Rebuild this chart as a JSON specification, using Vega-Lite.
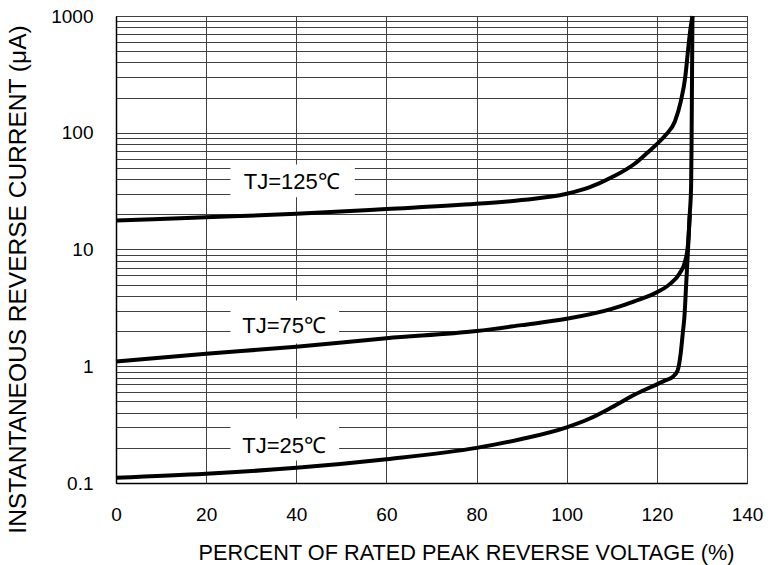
{
  "$schema": "https://vega.github.io/schema/vega-lite/v6.json",
  "width": 631,
  "height": 467,
  "autosize": {"type": "none"},
  "padding": {"left": 116, "top": 16, "right": 36, "bottom": 82},
  "background": "white",
  "config": {
    "font": "Liberation Sans",
    "view": {"stroke": "#000000", "strokeWidth": 1}
  },
  "datasets": {
    "curves": [
      {"series": "125", "x": 0, "y": 17.7},
      {"series": "125", "x": 20, "y": 18.9},
      {"series": "125", "x": 40, "y": 20.2},
      {"series": "125", "x": 60, "y": 22.2},
      {"series": "125", "x": 80, "y": 24.6},
      {"series": "125", "x": 90, "y": 26.5},
      {"series": "125", "x": 100, "y": 30},
      {"series": "125", "x": 105, "y": 34},
      {"series": "125", "x": 110, "y": 41.5},
      {"series": "125", "x": 115, "y": 54},
      {"series": "125", "x": 118, "y": 68},
      {"series": "125", "x": 120, "y": 80},
      {"series": "125", "x": 122, "y": 96},
      {"series": "125", "x": 124, "y": 125},
      {"series": "125", "x": 125.3, "y": 185},
      {"series": "125", "x": 126.3, "y": 300},
      {"series": "125", "x": 126.9, "y": 500},
      {"series": "125", "x": 127.4, "y": 750},
      {"series": "125", "x": 127.9, "y": 1000},
      {"series": "75", "x": 0, "y": 1.1},
      {"series": "75", "x": 20, "y": 1.28},
      {"series": "75", "x": 40, "y": 1.47},
      {"series": "75", "x": 60, "y": 1.74},
      {"series": "75", "x": 80, "y": 2.0},
      {"series": "75", "x": 90, "y": 2.25},
      {"series": "75", "x": 100, "y": 2.55},
      {"series": "75", "x": 110, "y": 3.1},
      {"series": "75", "x": 115, "y": 3.6},
      {"series": "75", "x": 120, "y": 4.3},
      {"series": "75", "x": 123, "y": 5.1},
      {"series": "75", "x": 125, "y": 6.2},
      {"series": "75", "x": 126.3, "y": 8},
      {"series": "75", "x": 126.9, "y": 11},
      {"series": "75", "x": 127.3, "y": 20},
      {"series": "25", "x": 0, "y": 0.111},
      {"series": "25", "x": 20, "y": 0.12},
      {"series": "25", "x": 40, "y": 0.135},
      {"series": "25", "x": 60, "y": 0.16},
      {"series": "25", "x": 80, "y": 0.2},
      {"series": "25", "x": 90, "y": 0.238},
      {"series": "25", "x": 100, "y": 0.3},
      {"series": "25", "x": 105, "y": 0.355},
      {"series": "25", "x": 110, "y": 0.445},
      {"series": "25", "x": 115, "y": 0.57},
      {"series": "25", "x": 120, "y": 0.7},
      {"series": "25", "x": 122, "y": 0.76},
      {"series": "25", "x": 123.5, "y": 0.81},
      {"series": "25", "x": 124.6, "y": 0.92},
      {"series": "25", "x": 125.3, "y": 1.3},
      {"series": "25", "x": 125.8, "y": 2.0},
      {"series": "25", "x": 126.1, "y": 2.6},
      {"series": "25", "x": 126.5, "y": 5},
      {"series": "25", "x": 126.9, "y": 9.8},
      {"series": "25", "x": 127.3, "y": 20},
      {"series": "25", "x": 127.6, "y": 35},
      {"series": "25", "x": 127.7, "y": 80},
      {"series": "25", "x": 127.8, "y": 300},
      {"series": "25", "x": 127.9, "y": 1000}
    ],
    "labels": [
      {"text": "TJ=125℃", "x1": 25.4, "x2": 53, "y1": 28, "y2": 53.5, "tx": 39, "ty": 37.7},
      {"text": "TJ=75℃", "x1": 25.4, "x2": 49.5, "y1": 1.57, "y2": 3.66, "tx": 37.3, "ty": 2.23},
      {"text": "TJ=25℃", "x1": 25.4, "x2": 49.5, "y1": 0.156, "y2": 0.356, "tx": 37.3, "ty": 0.209}
    ]
  },
  "layer": [
    {
      "data": {"name": "labels"},
      "mark": {"type": "rect", "fill": "white", "stroke": null},
      "encoding": {
        "x": {"field": "x1", "type": "quantitative",
          "scale": {"domain": [0, 140], "nice": false},
          "axis": {
            "values": [0, 20, 40, 60, 80, 100, 120, 140],
            "title": "PERCENT OF RATED PEAK REVERSE VOLTAGE (%)",
            "titleFontSize": 21.7, "titleFontWeight": "normal", "titleColor": "#000",
            "titlePadding": 18, "titleX": 350,
            "labelFontSize": 19, "labelColor": "#000", "labelPadding": 22,
            "labelFlush": false,
            "ticks": false,
            "domainColor": "#000", "domainWidth": 1.5,
            "grid": true, "gridColor": "#404040", "gridWidth": 1, "gridOpacity": 1
          }
        },
        "x2": {"field": "x2"},
        "y": {"field": "y1", "type": "quantitative",
          "scale": {"type": "log", "domain": [0.1, 1000], "nice": false},
          "axis": {
            "values": [0.1, 0.2, 0.3, 0.4, 0.5, 0.6, 0.7, 0.8, 0.9, 1, 2, 3, 4, 5, 6, 7, 8, 9, 10, 20, 30, 40, 50, 60, 70, 80, 90, 100, 200, 300, 400, 500, 600, 700, 800, 900, 1000],
            "format": "~g",
            "labelExpr": "(datum.value == 0.1 || datum.value == 1 || datum.value == 10 || datum.value == 100 || datum.value == 1000) ? datum.label : ''",
            "title": "INSTANTANEOUS REVERSE CURRENT (μA)",
            "titleFontSize": 24.5, "titleFontWeight": "normal", "titleColor": "#000",
            "titleX": -86, "titleY": 263, "titleBaseline": "bottom", "titleAngle": -90,
            "labelFontSize": 19, "labelColor": "#000", "labelPadding": 23,
            "labelFlush": false,
            "labelOverlap": false, "labelBound": false,
            "ticks": false,
            "domainColor": "#000", "domainWidth": 1.5,
            "grid": true, "gridColor": "#404040", "gridWidth": 1, "gridOpacity": 1
          }
        },
        "y2": {"field": "y2"}
      }
    },
    {
      "data": {"name": "curves"},
      "mark": {"type": "line", "color": "#000", "strokeWidth": 4, "interpolate": "monotone", "strokeJoin": "round", "strokeCap": "butt"},
      "encoding": {
        "x": {"field": "x", "type": "quantitative"},
        "y": {"field": "y", "type": "quantitative"},
        "detail": {"field": "series"},
        "order": {"field": "x"}
      }
    },
    {
      "data": {"name": "labels"},
      "mark": {"type": "text", "fontSize": 22, "color": "#000", "align": "center", "baseline": "middle"},
      "encoding": {
        "x": {"field": "tx", "type": "quantitative"},
        "y": {"field": "ty", "type": "quantitative"},
        "text": {"field": "text"}
      }
    }
  ]
}
